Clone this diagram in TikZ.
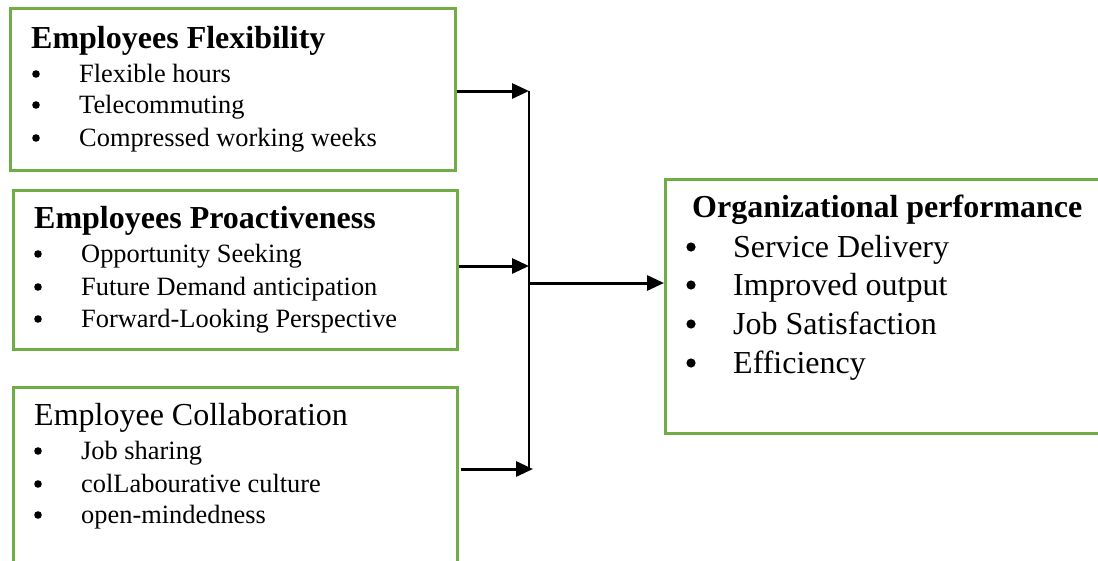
\documentclass[tikz,border=0pt]{standalone}
\usepackage{fontspec}
\setmainfont{Liberation Serif}
\usetikzlibrary{arrows.meta}
\definecolor{boxgreen}{RGB}{112,173,71}
\tikzset{
  box/.style={draw=boxgreen, line width=2.6pt, rectangle, inner sep=0pt, anchor=north west},
  head/.style={anchor=base west, inner sep=0pt, font=\fontsize{32}{36}\selectfont\bfseries},
  headplain/.style={anchor=base west, inner sep=0pt, font=\fontsize{32}{36}\selectfont},
  itm/.style={anchor=base west, inner sep=0pt, font=\fontsize{26.4}{30}\selectfont},
  bigitm/.style={anchor=base west, inner sep=0pt, font=\fontsize{32}{36}\selectfont},
  arr/.style={line width=3pt, -{Triangle[length=17pt,width=15pt]}},
  thinline/.style={line width=1.4pt},
}
\begin{document}
\begin{tikzpicture}[x=1pt,y=-1pt]
\useasboundingbox (0,0) rectangle (1098,560);
\clip (0,0) rectangle (1098,560);
\fill[white] (0,0) rectangle (1098,560);
% boxes
\node[box, minimum width=445pt, minimum height=162pt] (b1) at (9,7) {};
\node[box, minimum width=444pt, minimum height=159pt] (b2) at (12,189) {};
\node[box, minimum width=444pt, minimum height=200pt] (b3) at (12,386) {};
\node[box, minimum width=440pt, minimum height=254pt] (b4) at (664,178) {};
% box 1 text
\node[head] (t1) at (31,48) {Employees Flexibility};
\node[itm] (i11) at (79,82) {Flexible hours};
\node[itm] (i12) at (79,113) {Telecommuting};
\node[itm] (i13) at (79,146) {Compressed working weeks};
\foreach \y in {82,113,146} \fill (36,\y-8) circle (3.8pt);
% box 2 text
\node[head] (t2) at (34,228) {Employees Proactiveness};
\node[itm] (i21) at (81,262) {Opportunity Seeking};
\node[itm] (i22) at (81,295) {Future Demand anticipation};
\node[itm] (i23) at (81,327) {Forward-Looking Perspective};
\foreach \y in {262,295,327} \fill (38,\y-8) circle (3.8pt);
% box 3 text
\node[headplain] (t3) at (34,425) {Employee Collaboration};
\node[itm] (i31) at (81,459) {Job sharing};
\node[itm] (i32) at (81,492) {colLabourative culture};
\node[itm] (i33) at (81,523) {open-mindedness};
\foreach \y in {459,492,523} \fill (38,\y-8) circle (3.8pt);
% right box text
\node[head] (t4) at (692,217) {Organizational performance};
\node[bigitm] (i41) at (733,257) {Service Delivery};
\node[bigitm] (i42) at (733,295) {Improved output};
\node[bigitm] (i43) at (733,334) {Job Satisfaction};
\node[bigitm] (i44) at (733,373) {Efficiency};
\foreach \y in {257,295,334,373} \fill (691,\y-10) circle (4.6pt);
% connectors
\coordinate (j1) at (529,91);
\coordinate (j2) at (529,266);
\coordinate (j3) at (533,469);
\coordinate (jb) at (529,469);
\coordinate (jm) at (529,283);
\draw[arr] (b1.east |- j1) -- (j1);
\draw[arr] (b2.east |- j2) -- (j2);
\draw[arr] ([xshift=2pt]b3.east |- j3) -- (j3);
\draw[thinline] (j1) -- (jb);
\draw[arr] (jm) -- (b4.west |- jm);
\end{tikzpicture}
\end{document}
